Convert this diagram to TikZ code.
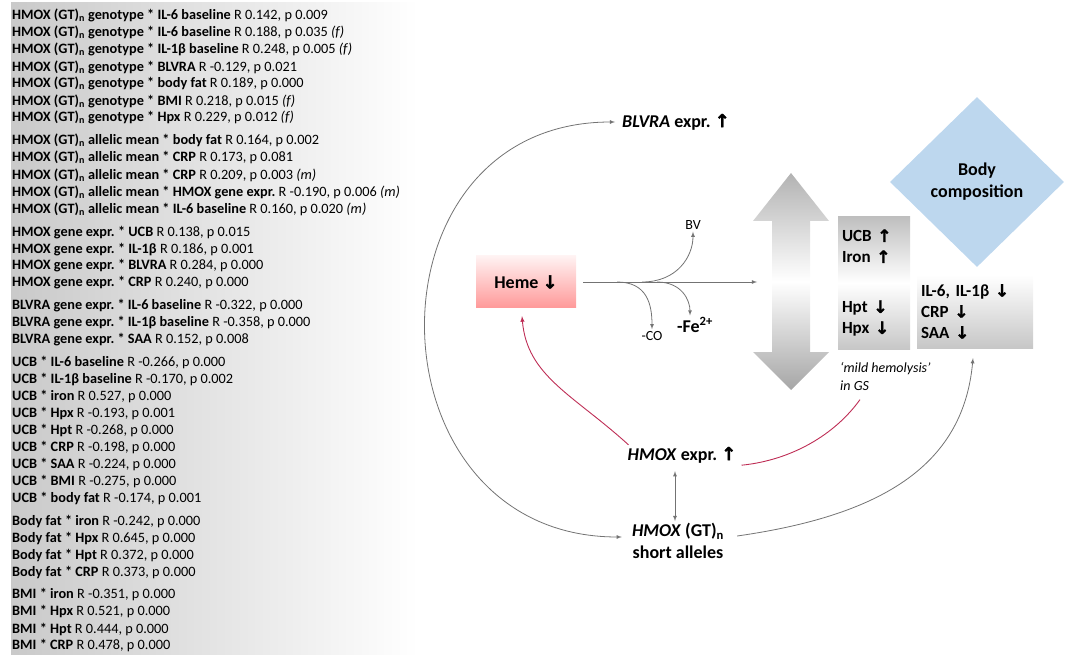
\documentclass[tikz,border=0pt]{standalone}
\usepackage{fontspec}
\setmainfont{Carlito}
\newfontfamily\symf[FakeBold=1.6]{DejaVu Sans}
\usepackage{tikz}
\usetikzlibrary{shapes.geometric}

\definecolor{myred}{RGB}{190,45,85}
\definecolor{bodyblue}{RGB}{189,215,238}
\newcommand{\gtn}{HMOX (GT)\textsubscript{n}}
\newcommand{\arup}{{\symf ↑}}
\newcommand{\ardn}{{\symf ↓}}
\frenchspacing

\begin{document}
\begin{tikzpicture}[x=1pt,y=-1pt]

	\tikzstyle{corr}=[anchor=base west,inner sep=0,font=\fontsize{14.3}{17}\selectfont]
	\tikzstyle{lbl}=[font=\bfseries\fontsize{18}{22}\selectfont,align=center,inner sep=2pt]
	\tikzstyle{small}=[font=\fontsize{14}{17}\selectfont,inner sep=2pt]
	\tikzstyle{box}=[font=\bfseries\fontsize{17}{21}\selectfont,align=left,inner sep=4pt]
	\tikzstyle{thinarrow}=[draw=black!55,line width=0.8pt,>=latex]
	\tikzstyle{redline}=[draw=myred,line width=0.9pt,>=latex]

	\useasboundingbox (0,0) rectangle (1069,655);

	% correlations
	\shade[left color=black!21,right color=white] (11,3) rectangle (418,655);
	\foreach \y/\t in {
		15/{\textbf{\gtn\ genotype * IL-6 baseline} R 0.142, p 0.009},
		32/{\textbf{\gtn\ genotype * IL-6 baseline} R 0.188, p 0.035 \textit{(f)}},
		49/{\textbf{\gtn\ genotype * IL-1β baseline} R 0.248, p 0.005 \textit{(f)}},
		67/{\textbf{\gtn\ genotype * BLVRA} R -0.129, p 0.021},
		83/{\textbf{\gtn\ genotype * body fat} R 0.189, p 0.000},
		101/{\textbf{\gtn\ genotype * BMI} R 0.218, p 0.015 \textit{(f)}},
		117/{\textbf{\gtn\ genotype * Hpx} R 0.229, p 0.012 \textit{(f)}},
		140/{\textbf{\gtn\ allelic mean * body fat} R 0.164, p 0.002},
		157/{\textbf{\gtn\ allelic mean * CRP} R 0.173, p 0.081},
		175/{\textbf{\gtn\ allelic mean * CRP} R 0.209, p 0.003 \textit{(m)}},
		192/{\textbf{\gtn\ allelic mean * HMOX gene expr.} R -0.190, p 0.006 \textit{(m)}},
		209/{\textbf{\gtn\ allelic mean * IL-6 baseline} R 0.160, p 0.020 \textit{(m)}},
		232/{\textbf{HMOX gene expr. * UCB} R 0.138, p 0.015},
		249/{\textbf{HMOX gene expr. * IL-1β} R 0.186, p 0.001},
		265/{\textbf{HMOX gene expr. * BLVRA} R 0.284, p 0.000},
		282/{\textbf{HMOX gene expr. * CRP} R 0.240, p 0.000},
		305/{\textbf{BLVRA gene expr. * IL-6 baseline} R -0.322, p 0.000},
		322/{\textbf{BLVRA gene expr. * IL-1β baseline} R -0.358, p 0.000},
		339/{\textbf{BLVRA gene expr. * SAA} R 0.152, p 0.008},
		362/{\textbf{UCB * IL-6 baseline} R -0.266, p 0.000},
		379/{\textbf{UCB * IL-1β baseline} R -0.170, p 0.002},
		396/{\textbf{UCB * iron} R 0.527, p 0.000},
		413/{\textbf{UCB * Hpx} R -0.193, p 0.001},
		430/{\textbf{UCB * Hpt} R -0.268, p 0.000},
		447/{\textbf{UCB * CRP} R -0.198, p 0.000},
		464/{\textbf{UCB * SAA} R -0.224, p 0.000},
		481/{\textbf{UCB * BMI} R -0.275, p 0.000},
		498/{\textbf{UCB * body fat} R -0.174, p 0.001},
		521/{\textbf{Body fat * iron} R -0.242, p 0.000},
		538/{\textbf{Body fat * Hpx} R 0.645, p 0.000},
		555/{\textbf{Body fat * Hpt} R 0.372, p 0.000},
		572/{\textbf{Body fat * CRP} R 0.373, p 0.000},
		594/{\textbf{BMI * iron} R -0.351, p 0.000},
		611/{\textbf{BMI * Hpx} R 0.521, p 0.000},
		629/{\textbf{BMI * Hpt} R 0.444, p 0.000},
		645/{\textbf{BMI * CRP} R 0.478, p 0.000}}
	{ \node[corr] (c\y) at (12,\y+4.5) {\t}; }

	% up/down arrow
	\shade[top color=black!30,bottom color=black!35,middle color=white] (791,173) -- (829,221) -- (810,221) -- (810,352) -- (829,352) -- (791,390) -- (753,352) -- (772,352) -- (772,221) -- (753,221) -- cycle;
	\coordinate (hit) at (757,282);

	\node[lbl] (blvra) at (676,122) {\textit{BLVRA} expr. \arup};
	\node[lbl,top color=red!5,bottom color=red!40,minimum width=100pt,minimum height=52pt] (heme) at (526,282) {Heme \ardn};
	\node[small] (bv) at (693,225) {BV};
	\node[small] (co) at (652,336) {-CO};
	\node[lbl] (fe) at (695,325) {-Fe\textsuperscript{2+}};
	\node[lbl] (hmox) at (682,455) {\textit{HMOX} expr. \arup};
	\node[lbl] (gt) at (678,541) {\textit{HMOX} (GT)\textsubscript{n}\\short alleles};

	\node[box,top color=black!25,bottom color=black!22,middle color=white,minimum width=72pt,minimum height=132pt,text width=64pt] (hemo) at (874,283) {UCB \arup\\Iron \arup\\[29pt]Hpt \ardn\\Hpx \ardn};
	\node[box,top color=white,bottom color=black!22,minimum width=116pt,minimum height=73pt,text width=108pt] (infl) at (975,311.5) {IL-6, IL-1β \ardn\\CRP \ardn\\SAA \ardn};
	\node[diamond,fill=bodyblue,lbl,inner sep=0,minimum width=174pt,minimum height=170pt] (body) at (977,182) {Body\\composition};
	\node[anchor=north west,align=left,font=\itshape\fontsize{14}{18}\selectfont,inner sep=0] (mild) at (840,362) {`mild hemolysis'\\in GS};

	% heme breakdown
	\coordinate (fco) at (617,282);
	\coordinate (fbv) at (642,282);
	\coordinate (ffe) at (657,282);
	\draw[thinarrow,->] ([xshift=7pt]heme.east) -- (hit);
	\draw[thinarrow,->] (fbv) .. controls +(35,0) and +(0,25) .. (bv.south);
	\draw[thinarrow,->] (fco) .. controls +(30,0) and +(0,-25) .. (co.north);
	\draw[thinarrow,->] (ffe) .. controls +(25,0) and +(0,-15) .. ([xshift=-5pt]fe.north);

	% links
	\draw[thinarrow,<->] ([xshift=-8pt,yshift=4pt]gt.west) .. controls +(-257,0) and +(-257,0) .. ([xshift=-5pt]blvra.west);
	\draw[thinarrow,<->,shorten <=6pt] ([xshift=-7pt]hmox.south) -- ([xshift=-3pt]gt.north);
	\draw[thinarrow,->] ([xshift=11pt,yshift=5pt]gt.east) .. controls +(140,-20) and +(-10,110) .. ([xshift=-2pt,yshift=-10pt]infl.south);
	\draw[redline,->] ([xshift=3pt]hmox.north west) .. controls +(-55,-50) and +(5,60) .. ([xshift=-4pt,yshift=-8pt]heme.south);
	\draw[redline] ([xshift=3pt]hmox.south east) .. controls +(50,-5) and +(-25,35) .. ([xshift=20pt,yshift=-9pt]mild.south west);
\end{tikzpicture}
\end{document}
